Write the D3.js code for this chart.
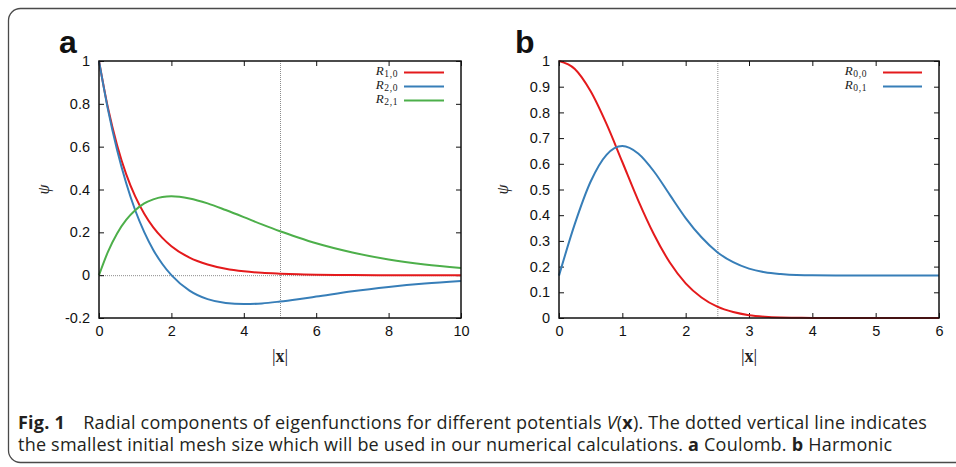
<!DOCTYPE html>
<html>
<head>
<meta charset="utf-8">
<script src="https://cdn.jsdelivr.net/npm/d3@7"></script>
<style>
  body { margin: 0; background: #fff; }
</style>
</head>
<body>
<div id="chart-area"></div>
<script>
// ---- data ----
// panel a: Coulomb
const coulombX = [0, 0.25, 0.5, 0.75, 1, 1.25, 1.5, 1.75, 2, 2.5, 3, 3.5, 4, 4.5, 5, 5.5, 6, 7, 8, 9, 10]
const coulombR10 = [1, 0.779, 0.607, 0.472, 0.368, 0.287, 0.223, 0.174, 0.135, 0.082, 0.050, 0.030, 0.018, 0.011, 0.007, 0.004, 0.002, 0.001, 0, 0, 0]
const coulombR20 = [1, 0.772, 0.584, 0.430, 0.303, 0.201, 0.118, 0.052, 0, -0.072, -0.112, -0.130, -0.135, -0.132, -0.123, -0.112, -0.100, -0.075, -0.055, -0.039, -0.027]
const coulombR21 = [0, 0.110, 0.195, 0.258, 0.303, 0.335, 0.354, 0.365, 0.368, 0.358, 0.335, 0.304, 0.271, 0.237, 0.205, 0.176, 0.149, 0.106, 0.073, 0.050, 0.034]

// panel b: Harmonic
const harmX = [0, 0.25, 0.5, 0.75, 1, 1.25, 1.5, 1.75, 2, 2.25, 2.5, 2.75, 3, 3.25, 3.5, 3.75, 4, 4.5, 5, 5.5, 6]
const harmR00 = [1, 0.969, 0.882, 0.755, 0.607, 0.458, 0.325, 0.216, 0.135, 0.080, 0.044, 0.023, 0.011, 0.005, 0.002, 0.001, 0, 0, 0, 0, 0]
const harmR01 = [0.165, 0.366, 0.531, 0.635, 0.669, 0.640, 0.570, 0.479, 0.389, 0.314, 0.256, 0.217, 0.192, 0.178, 0.171, 0.167, 0.166, 0.165, 0.165, 0.165, 0.165]

const coulombXTicks = [0, 2, 4, 6, 8, 10]
const coulombYTicks = [-0.2, 0, 0.2, 0.4, 0.6, 0.8, 1]
const harmXTicks = [0, 1, 2, 3, 4, 5, 6]
const harmYTicks = [0, 0.1, 0.2, 0.3, 0.4, 0.5, 0.6, 0.7, 0.8, 0.9, 1]

const RED = "#e41a1c"
const BLUE = "#377eb8"
const GREEN = "#4daf4a"

const WIDTH = 956
const HEIGHT = 467

const svg = d3.select("#chart-area").append("svg")
  .attr("width", WIDTH)
  .attr("height", HEIGHT)

svg.append("rect")
  .attr("width", WIDTH)
  .attr("height", HEIGHT)
  .attr("fill", "#fff")

// outer rounded box (runs off the right edge)
svg.append("rect")
  .attr("x", 8.5)
  .attr("y", 8.5)
  .attr("width", 1000)
  .attr("height", 454)
  .attr("rx", 12)
  .attr("fill", "none")
  .attr("stroke", "#4a4a4a")
  .attr("stroke-width", 1.3)

const fmt = d => d === 0 ? "0" : String(+d.toFixed(1))

function drawPanel(p) {
  const x = d3.scaleLinear().domain(p.xDomain).range([p.left, p.right])
  const y = d3.scaleLinear().domain(p.yDomain).range([p.bottom, p.top])
  const g = svg.append("g")

  // dotted mesh-size line
  g.append("line")
    .attr("x1", x(p.mesh) + 0.5).attr("x2", x(p.mesh) + 0.5)
    .attr("y1", p.top).attr("y2", p.bottom)
    .attr("stroke", "#8c8c8c")
    .attr("stroke-width", 1)
    .attr("stroke-dasharray", "1,1")

  if (p.zeroLine) {
    g.append("line")
      .attr("x1", p.left).attr("x2", p.right)
      .attr("y1", y(0) + 0.5).attr("y2", y(0) + 0.5)
      .attr("stroke", "#8c8c8c")
      .attr("stroke-width", 1)
      .attr("stroke-dasharray", "1,1")
  }

  // axes, gnuplot style: inward ticks on all four sides
  const bottom = g.append("g")
    .attr("transform", `translate(0, ${p.bottom})`)
    .call(d3.axisBottom(x).tickValues(p.xTicks).tickSize(-5).tickPadding(8).tickFormat(fmt))
  const left = g.append("g")
    .attr("transform", `translate(${p.left}, 0)`)
    .call(d3.axisLeft(y).tickValues(p.yTicks).tickSize(-5).tickPadding(9).tickFormat(fmt))
  g.append("g")
    .attr("transform", `translate(0, ${p.top})`)
    .call(d3.axisTop(x).tickValues(p.xTicks).tickSize(-5).tickFormat(""))
  g.append("g")
    .attr("transform", `translate(${p.right}, 0)`)
    .call(d3.axisRight(y).tickValues(p.yTicks).tickSize(-5).tickFormat(""))

  g.selectAll(".domain").remove()
  g.selectAll(".tick line").attr("stroke", "#111").attr("stroke-width", 1)
  ;[bottom, left].forEach(a => a.selectAll("text")
    .attr("font-family", "'Liberation Sans', Arial, sans-serif")
    .attr("font-size", 14.5)
    .attr("fill", "#111"))

  // curves
  const line = d3.line()
    .x(d => x(d[0]))
    .y(d => y(d[1]))
    .curve(d3.curveMonotoneX)

  p.series.forEach(s => {
    g.append("path")
      .datum(d3.zip(p.xs, s.values))
      .attr("fill", "none")
      .attr("stroke", s.color)
      .attr("stroke-width", 2)
      .attr("d", line)
  })

  // frame
  g.append("rect")
    .attr("x", p.left).attr("y", p.top)
    .attr("width", p.right - p.left).attr("height", p.bottom - p.top)
    .attr("fill", "none")
    .attr("stroke", "#111")
    .attr("stroke-width", 1.5)

  // legend
  p.series.forEach((s, i) => {
    const ly = p.legendY + i * 14
    const t = g.append("text")
      .attr("x", p.legendTextX)
      .attr("y", ly + 2.5)
      .attr("text-anchor", "end")
      .attr("font-family", "'Liberation Serif', 'DejaVu Serif', serif")
      .attr("font-size", 13)
      .attr("fill", "#222")
    t.append("tspan").attr("font-style", "italic").attr("letter-spacing", 0.5).text("R")
    t.append("tspan").attr("font-size", 9.5).attr("dy", 1.5).attr("letter-spacing", 0.6).text(s.sub)
    g.append("line")
      .attr("x1", p.legendLine[0]).attr("x2", p.legendLine[1])
      .attr("y1", ly).attr("y2", ly)
      .attr("stroke", s.color)
      .attr("stroke-width", 2)
  })

  // axis labels
  g.append("text")
    .attr("transform", `translate(${p.yLabelX}, ${(p.top + p.bottom) / 2}) rotate(-90)`)
    .attr("text-anchor", "middle")
    .attr("dy", "0.35em")
    .attr("font-family", "'Liberation Serif', 'DejaVu Serif', serif")
    .attr("font-style", "italic")
    .attr("font-size", 16)
    .attr("fill", "#222")
    .text("ψ")

  const xl = g.append("text")
    .attr("x", (p.left + p.right) / 2)
    .attr("y", 362)
    .attr("text-anchor", "middle")
    .attr("font-family", "'Liberation Serif', 'DejaVu Serif', serif")
    .attr("font-size", 18)
    .attr("fill", "#222")
  xl.append("tspan").text("|")
  xl.append("tspan").attr("font-weight", "bold").text("x")
  xl.append("tspan").text("|")

  // panel letter
  g.append("text")
    .attr("x", p.letterX)
    .attr("y", 53)
    .attr("font-family", "'Liberation Sans', Arial, sans-serif")
    .attr("font-weight", "bold")
    .attr("font-size", 32)
    .attr("fill", "#111")
    .text(p.letter)
}

drawPanel({
  letter: "a", letterX: 59,
  left: 99, right: 461, top: 61, bottom: 318,
  xDomain: [0, 10], yDomain: [-0.2, 1],
  xTicks: coulombXTicks, yTicks: coulombYTicks,
  mesh: 5, zeroLine: true,
  xs: coulombX,
  series: [
    { sub: "1,0", values: coulombR10, color: RED },
    { sub: "2,0", values: coulombR20, color: BLUE },
    { sub: "2,1", values: coulombR21, color: GREEN }
  ],
  legendY: 72.5, legendTextX: 398, legendLine: [404, 444],
  yLabelX: 43
})

drawPanel({
  letter: "b", letterX: 515,
  left: 559, right: 939, top: 61, bottom: 318,
  xDomain: [0, 6], yDomain: [0, 1],
  xTicks: harmXTicks, yTicks: harmYTicks,
  mesh: 2.5, zeroLine: false,
  xs: harmX,
  series: [
    { sub: "0,0", values: harmR00, color: RED },
    { sub: "0,1", values: harmR01, color: BLUE }
  ],
  legendY: 72.5, legendTextX: 867, legendLine: [883, 922],
  yLabelX: 502
})

// caption: two lines, fitted to the printed width by tightening letter spacing
const capFont = "'Open Sans', 'Noto Sans', sans-serif"
const CAP_WIDTH = 909

const cap1 = svg.append("text")
  .attr("x", 18).attr("y", 429)
  .attr("font-family", capFont).attr("font-size", 18).attr("fill", "#231f20")
cap1.append("tspan").attr("font-weight", "bold").text("Fig. 1")
cap1.append("tspan").attr("xml:space", "preserve").text("\u2003Radial components of eigenfunctions for different potentials ")
cap1.append("tspan").attr("font-style", "italic").text("V")
cap1.append("tspan").text("(")
cap1.append("tspan").attr("font-weight", "bold").text("x")
cap1.append("tspan").text("). The dotted vertical line indicates")

const cap2 = svg.append("text")
  .attr("x", 18).attr("y", 451)
  .attr("font-family", capFont).attr("font-size", 18).attr("fill", "#231f20")
cap2.append("tspan").text("the smallest initial mesh size which will be used in our numerical calculations. ")
cap2.append("tspan").attr("font-weight", "bold").text("a")
cap2.append("tspan").text(" Coulomb. ")
cap2.append("tspan").attr("font-weight", "bold").text("b")
cap2.append("tspan").text(" Harmonic")

const nChars = cap1.text().length
const spacing = (CAP_WIDTH - cap1.node().getComputedTextLength()) / nChars
cap1.attr("letter-spacing", spacing)
cap2.attr("letter-spacing", spacing)
</script>
</body>
</html>
